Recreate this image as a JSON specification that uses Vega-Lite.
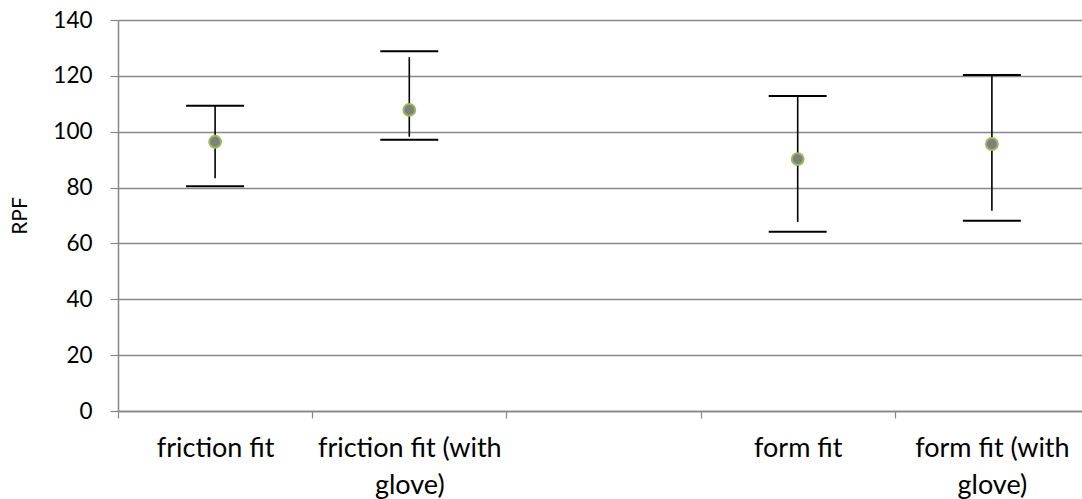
{
  "$schema": "https://vega.github.io/schema/vega-lite/v6.json",
  "width": 964,
  "height": 391,
  "autosize": "none",
  "padding": {"left": 118, "top": 20, "right": 0, "bottom": 88},
  "background": "white",
  "config": {"view": {"stroke": null}, "font": "Lato"},
  "data": {
    "values": [
      {"idx": 1, "category": "friction fit", "mean": 96.4, "capLo": 80.5, "capHi": 109.3, "lineLo": 83.3, "lineHi": 109.3},
      {"idx": 2, "category": "friction fit (with glove)", "mean": 107.8, "capLo": 97.1, "capHi": 128.8, "lineLo": 98.2, "lineHi": 126.7},
      {"idx": 4, "category": "form fit", "mean": 90.2, "capLo": 64.2, "capHi": 112.8, "lineLo": 67.7, "lineHi": 112.8},
      {"idx": 5, "category": "form fit (with glove)", "mean": 95.6, "capLo": 68.1, "capHi": 120.3, "lineLo": 71.7, "lineHi": 120.3}
    ]
  },
  "resolve": {"axis": {"x": "independent"}},
  "layer": [
    {
      "mark": {"type": "rule", "color": "black", "strokeWidth": 1.6},
      "encoding": {
        "x": {
          "field": "idx", "type": "quantitative",
          "scale": {"domain": [0.5, 5.464], "nice": false, "zero": false},
          "axis": {
            "orient": "bottom", "values": [0.5, 1.5, 2.5, 3.5, 4.5], "labels": false, "title": null,
            "grid": false, "domainColor": "#868686", "domainWidth": 1.5, "tickColor": "#868686", "tickSize": 7, "tickWidth": 1.2
          }
        },
        "y": {
          "field": "lineLo", "type": "quantitative",
          "scale": {"domain": [0, 140], "nice": false},
          "axis": {
            "values": [0, 20, 40, 60, 80, 100, 120, 140], "title": "RPF",
            "grid": true, "gridColor": "#898989", "gridWidth": 1.3,
            "domainColor": "#868686", "domainWidth": 1.5, "tickColor": "#868686", "tickSize": 8, "tickWidth": 1.2,
            "labelFontSize": 22.5, "labelColor": "black", "labelPadding": 18,
            "titleFontSize": 21, "titleFontWeight": "normal", "titleColor": "black", "titlePadding": 22
          }
        },
        "y2": {"field": "lineHi"}
      }
    },
    {
      "mark": {"type": "tick", "orient": "horizontal", "color": "black", "size": 58, "thickness": 2, "opacity": 1},
      "encoding": {
        "x": {
          "field": "idx", "type": "quantitative",
          "axis": {
            "orient": "bottom", "values": [1, 2, 3, 4, 5], "ticks": false, "domain": false, "grid": false, "title": null,
            "labelFontSize": 27, "labelColor": "black", "labelPadding": 24, "labelLineHeight": 37, "labelBaseline": "top", "labelLimit": 0,
            "labelExpr": "datum.value == 1 ? 'friction fit' : datum.value == 2 ? ['friction fit (with', 'glove)'] : datum.value == 4 ? 'form fit' : datum.value == 5 ? ['form fit (with', 'glove)'] : ''"
          }
        },
        "y": {"field": "capLo", "type": "quantitative"}
      }
    },
    {
      "mark": {"type": "tick", "orient": "horizontal", "color": "black", "size": 58, "thickness": 2, "opacity": 1},
      "encoding": {
        "x": {"field": "idx", "type": "quantitative", "axis": null},
        "y": {"field": "capHi", "type": "quantitative"}
      }
    },
    {
      "mark": {"type": "point", "filled": true, "fill": "#7f7f7f", "stroke": "#9bbb59", "strokeWidth": 2, "size": 140, "opacity": 1},
      "encoding": {
        "x": {"field": "idx", "type": "quantitative", "axis": null},
        "y": {"field": "mean", "type": "quantitative"}
      }
    }
  ]
}
